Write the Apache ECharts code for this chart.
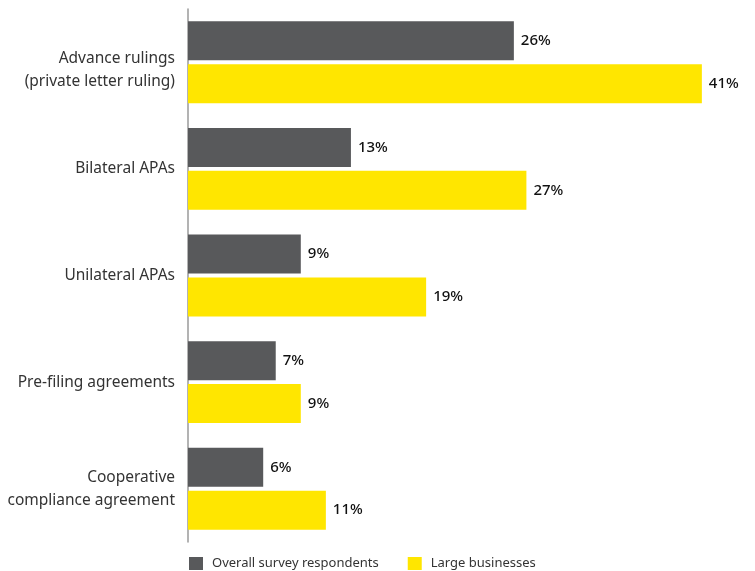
<!DOCTYPE html>
<html>
<head>
<meta charset="utf-8">
<script src="https://cdn.jsdelivr.net/npm/echarts@6/dist/echarts.min.js"></script>
<style>
  html, body { margin: 0; padding: 0; background: #fff; }
  #chart { width: 755px; height: 571px; }
</style>
</head>
<body>
<div id="chart"></div>
<script>
// Survey results: share of respondents using each tax certainty tool
const categories = [
  'Advance rulings\n(private letter ruling)',
  'Bilateral APAs',
  'Unilateral APAs',
  'Pre-filing agreements',
  'Cooperative\ncompliance agreement'
];
const seriesNames = ['Overall survey respondents', 'Large businesses'];
const overallValues = [26, 13, 9, 7, 6];
const largeValues = [41, 27, 19, 9, 11];

const chart = echarts.init(document.getElementById('chart'));
const font = 'Noto Sans';

const valueLabel = {
  show: true,
  position: 'right',
  distance: 7,
  formatter: p => p.value + '%',
  color: '#111',
  fontFamily: font,
  fontSize: 15,
  fontWeight: 500
};

chart.setOption({
  animation: false,
  textStyle: { fontFamily: font },
  grid: { left: 188, right: 3, top: 9, bottom: 29, containLabel: false },
  legend: {
    left: 189,
    top: 557,
    padding: 0,
    itemWidth: 14,
    itemHeight: 13,
    itemGap: 29,
    icon: 'rect',
    textStyle: { fontFamily: font, fontSize: 13, color: '#333', padding: [0, 0, 0, 4] },
    data: seriesNames
  },
  xAxis: {
    type: 'value',
    min: 0,
    max: 45,
    show: false
  },
  yAxis: {
    type: 'category',
    inverse: true,
    data: categories,
    axisLine: { show: true, lineStyle: { color: '#9a9a9a', width: 1.5 } },
    axisTick: { show: false },
    axisLabel: {
      margin: 13,
      fontFamily: font,
      fontSize: 15.5,
      lineHeight: 23,
      color: '#333',
      align: 'right',
      // the first category label sits a little lower than its band centre:
      // a short empty leading line pushes its two text lines down
      formatter: (v, i) => {
        if (i !== 0) return v;
        return '{gap| }\n' + v.split('\n').map(l => '{n|' + l + '}').join('\n');
      },
      rich: {
        gap: { lineHeight: 16, fontSize: 10 },
        n: { lineHeight: 23, fontSize: 15.5, color: '#333', fontFamily: font }
      }
    }
  },
  series: [
    {
      name: seriesNames[0],
      type: 'bar',
      data: overallValues,
      barWidth: 39,
      barGap: '10%',
      itemStyle: { color: '#58595b' },
      label: valueLabel
    },
    {
      name: seriesNames[1],
      type: 'bar',
      data: largeValues,
      barWidth: 39,
      itemStyle: { color: '#ffe600' },
      label: valueLabel
    }
  ]
});
</script>
</body>
</html>
